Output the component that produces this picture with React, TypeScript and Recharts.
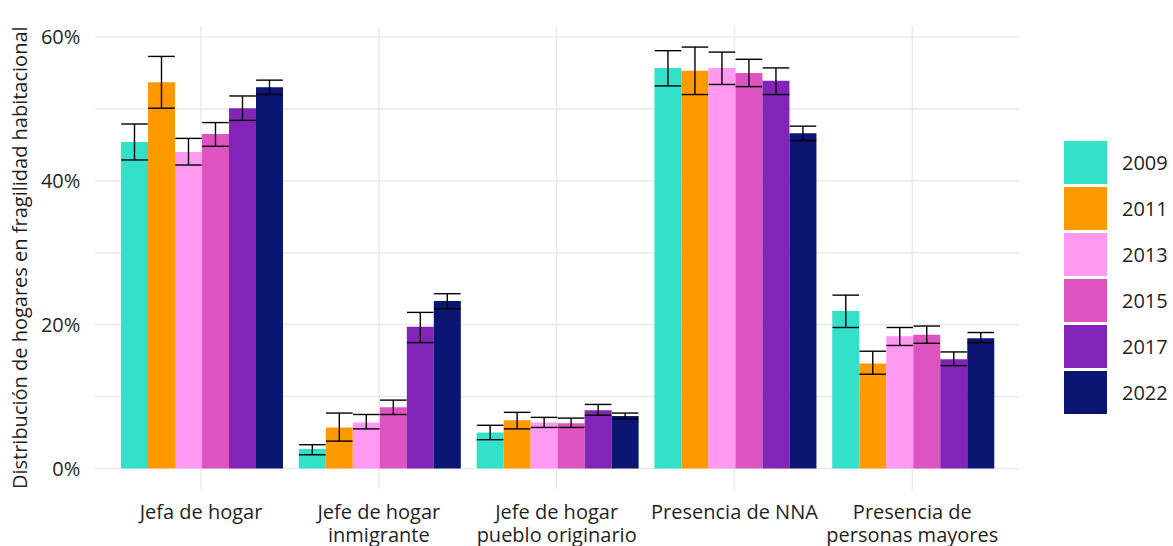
import { BarChart, Bar, XAxis, YAxis, CartesianGrid, ErrorBar, Legend } from 'recharts';

// Household groups on the x axis ("\n" marks a line break in the tick label)
const categories = [
  'Jefa de hogar',
  'Jefe de hogar\ninmigrante',
  'Jefe de hogar\npueblo originario',
  'Presencia de NNA',
  'Presencia de\npersonas mayores',
];

const years = ['2009', '2011', '2013', '2015', '2017', '2022'];
const colors = ['#33e0c9', '#ff9900', '#ff99f2', '#dd54c0', '#8324b9', '#0b1572'];

// Share of households (%) per year, with lower / upper interval bounds
const val2009 = [45.4, 2.7, 5.0, 55.7, 21.9];
const low2009 = [42.9, 1.9, 4.0, 53.2, 19.6];
const high2009 = [47.9, 3.3, 6.0, 58.1, 24.1];

const val2011 = [53.7, 5.7, 6.7, 55.3, 14.6];
const low2011 = [50.1, 3.8, 5.5, 52.0, 13.1];
const high2011 = [57.3, 7.7, 7.8, 58.6, 16.3];

const val2013 = [44.0, 6.4, 6.4, 55.7, 18.4];
const low2013 = [42.2, 5.5, 5.7, 53.4, 17.1];
const high2013 = [45.9, 7.5, 7.1, 57.9, 19.6];

const val2015 = [46.5, 8.5, 6.3, 55.0, 18.6];
const low2015 = [44.8, 7.5, 5.7, 53.1, 17.4];
const high2015 = [48.1, 9.5, 7.0, 56.9, 19.8];

const val2017 = [50.1, 19.7, 8.1, 53.9, 15.2];
const low2017 = [48.4, 17.5, 7.4, 52.0, 14.3];
const high2017 = [51.8, 21.7, 8.9, 55.7, 16.2];

const val2022 = [53.0, 23.3, 7.3, 46.6, 18.1];
const low2022 = [52.0, 22.2, 6.9, 45.6, 17.5];
const high2022 = [54.0, 24.3, 7.7, 47.6, 18.9];

const yTicks = [0, 10, 20, 30, 40, 50, 60];

const series = [
  [val2009, low2009, high2009],
  [val2011, low2011, high2011],
  [val2013, low2013, high2013],
  [val2015, low2015, high2015],
  [val2017, low2017, high2017],
  [val2022, low2022, high2022],
];

// One row per category: y<year> is the value, e<year> is [below, above] as offsets
const data = categories.map((name, i) => {
  const row: Record<string, string | number | number[]> = { name };
  years.forEach((yr, k) => {
    const [v, lo, hi] = series[k];
    row[`y${yr}`] = v[i];
    row[`e${yr}`] = [v[i] - lo[i], hi[i] - v[i]];
  });
  return row;
});

const FONT = '"Open Sans", "DejaVu Sans", sans-serif';
const TEXT = '#1f1f1f';

const CategoryTick = ({ x, y, payload }: { x?: number; y?: number; payload?: { value: string } }) => {
  const lines = String(payload?.value ?? '').split('\n');
  return (
    <text x={x} y={(y ?? 0) + 29} textAnchor="middle" fill={TEXT} fontSize={20} fontFamily={FONT}>
      {lines.map((line, i) => (
        <tspan key={i} x={x} dy={i === 0 ? 0 : 23.4}>
          {line}
        </tspan>
      ))}
    </text>
  );
};

const YearLegend = () => (
  <div style={{ fontFamily: FONT }}>
    {years.map((yr, k) => (
      <div key={yr} style={{ display: 'flex', alignItems: 'center', height: 46 }}>
        <div style={{ width: 43, height: 43, background: colors[k], marginRight: 15 }} />
        <span style={{ fontSize: 20, color: TEXT }}>{yr}</span>
      </div>
    ))}
  </div>
);

export default function App() {
  return (
    <div style={{ position: 'absolute', left: 0, top: 0, width: 1173, height: 546, background: '#fff' }}>
      <BarChart
        width={1173}
        height={546}
        data={data}
        margin={{ top: 26, right: 154, bottom: 0, left: 0 }}
        barCategoryGap="5%"
        barGap={0}
      >
        <CartesianGrid
          stroke="#ebebeb"
          strokeWidth={1.6}
          horizontalValues={yTicks}
          verticalValues={categories}
        />
        <XAxis
          dataKey="name"
          height={56.5}
          axisLine={false}
          tickLine={false}
          tickSize={0}
          tickMargin={0}
          interval={0}
          padding={{ left: 17.8, right: 17.8 }}
          tick={<CategoryTick />}
        />
        <YAxis
          width={94.3}
          domain={[-2.93, 61.53]}
          allowDataOverflow
          ticks={yTicks}
          tickFormatter={(v: number) => (v % 20 === 0 ? `${v}%` : '')}
          axisLine={false}
          tickLine={false}
          tickSize={0}
          tickMargin={14}
          tick={{ fill: TEXT, fontSize: 20, fontFamily: FONT }}
          label={{
            content: ({ viewBox }: { viewBox?: { y: number; height: number } }) => {
              const cy = (viewBox?.y ?? 0) + (viewBox?.height ?? 0) / 2;
              return (
                <text
                  transform={`translate(27, ${cy}) rotate(-90)`}
                  textAnchor="middle"
                  fill={TEXT}
                  fontSize={20}
                  fontFamily={FONT}
                >
                  Distribución de hogares en fragilidad habitacional
                </text>
              );
            },
          }}
        />
        <Legend
          layout="horizontal"
          align="center"
          verticalAlign="middle"
          wrapperStyle={{ left: 1064, top: 139.5, width: 109, height: 276 }}
          content={<YearLegend />}
        />
        {years.map((yr, k) => (
          <Bar key={yr} dataKey={`y${yr}`} name={yr} fill={colors[k]} isAnimationActive={false}>
            <ErrorBar dataKey={`e${yr}`} width={13.3} stroke="#000" strokeWidth={1.4} />
          </Bar>
        ))}
      </BarChart>
    </div>
  );
}
